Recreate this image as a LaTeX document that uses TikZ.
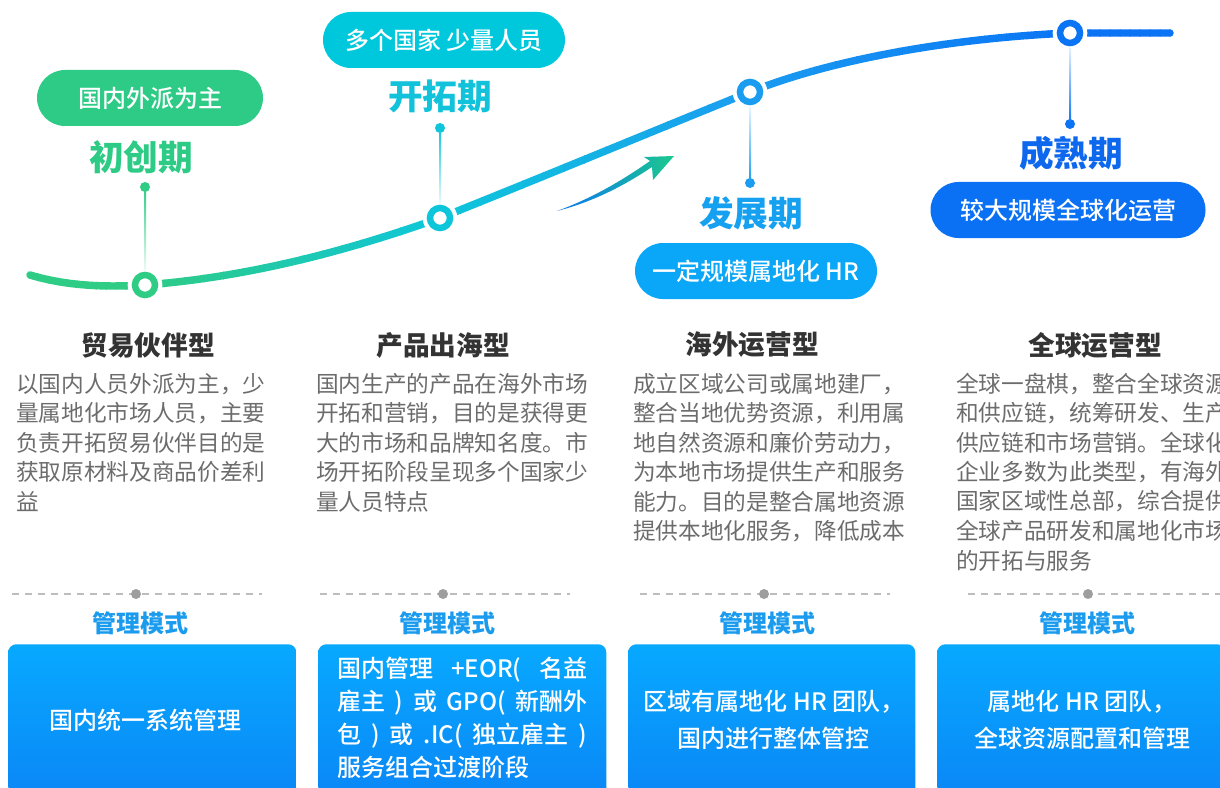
\documentclass[tikz,border=0pt]{standalone}
\usepackage{fontspec}
\setmainfont{Noto Sans CJK SC}
\newfontfamily\heavyfont{Noto Sans CJK SC Black}
\newfontfamily\medfont{Noto Sans CJK SC Medium}
\usetikzlibrary{calc}
\definecolor{cg}{HTML}{2ECC85}
\definecolor{cc}{HTML}{0EC6DA}
\definecolor{cl}{HTML}{1A9CF0}
\definecolor{cb}{HTML}{0A74F5}
\definecolor{pg}{HTML}{2DCB86}
\definecolor{pc}{HTML}{00C8DC}
\definecolor{pl}{HTML}{0AA6F7}
\definecolor{pb}{HTML}{0A70F4}
\definecolor{tg}{HTML}{2DCB85}
\definecolor{tc}{HTML}{12C2DA}
\definecolor{tl}{HTML}{16A0F0}
\definecolor{tb}{HTML}{0D68EE}
\definecolor{bodygray}{HTML}{6C6C6C}
\definecolor{titlegray}{HTML}{333333}
\definecolor{modeblue}{HTML}{1B9BEE}
\definecolor{boxtop}{HTML}{08A9FF}
\definecolor{boxbot}{HTML}{0A86F6}
\definecolor{dashgray}{HTML}{BDBDBD}
\definecolor{dotgray}{HTML}{9E9E9E}
\definecolor{arrowgreen}{HTML}{1DC98C}
\newcommand\mycurve{(c0) .. controls (70,287) and (110,287) .. (r1) .. controls (250,277) and (350,250) .. (r2) .. controls (560,170) and (680,120) .. (r3) .. controls (830,60) and (950,38) .. (r4) -- (c5)}
\begin{document}
\begin{tikzpicture}[x=0.75pt,y=-0.75pt,
  pill/.style={rounded corners=21pt,minimum height=42pt,inner sep=0pt,text=white,font=\medfont\fontsize{18}{18}\selectfont},
  phase/.style={font=\heavyfont\fontsize{26}{26}\selectfont,inner sep=0pt},
  coltitle/.style={font=\heavyfont\fontsize{20}{20}\selectfont,text=titlegray,inner sep=0pt},
  body/.style={font=\fontsize{17}{17}\selectfont,text=bodygray,anchor=west,inner sep=0pt},
  mode/.style={font=\heavyfont\fontsize{18}{18}\selectfont,text=modeblue,inner sep=0pt},
  boxtext/.style={font=\medfont\fontsize{18}{18}\selectfont,text=white,inner sep=0pt},
  mbox/.style={rounded corners=6pt,top color=boxtop,bottom color=boxbot,draw=none,minimum height=117pt,anchor=north west,inner sep=0pt},
  ring/.style={circle,draw,line width=4.9pt,minimum size=15pt,inner sep=0pt,fill=white},
  stemdot/.style={circle,minimum size=7.5pt,inner sep=0pt},
  sepdot/.style={circle,fill=dotgray,minimum size=7.5pt,inner sep=0pt},
  sepline/.style={draw=dashgray,line width=1.5pt,dash pattern=on 5.25pt off 4.5pt},
  curve/.style={line width=5.6pt,line cap=round}]
\useasboundingbox (0,0) rectangle (1220,788);
\clip (0,0) rectangle (1220,788);

% curve key points
\coordinate (c0) at (30,275);
\coordinate (r1) at (145,285);
\coordinate (r2) at (440,218);
\coordinate (r3) at (750,92);
\coordinate (r4) at (1070,33);
\coordinate (c5) at (1170,33);

% gradient curve, drawn in vertical bands
\foreach \xa/\xb/\ca/\cb in {0/145/cg/cg,145/440/cg/cc,440/750/cc/cl,750/1070/cl/cb,1070/1220/cb/cb}{
  \foreach \k in {0,...,14}{
    \pgfmathsetmacro\xl{\xa+(\xb-\xa)*\k/15-0.5}
    \pgfmathsetmacro\xr{\xa+(\xb-\xa)*(\k+1)/15+0.5}
    \pgfmathtruncatemacro\t{100*(\k+0.5)/15}
    \colorlet{bandc}{\cb!\t!\ca}
    \begin{scope}
      \clip (\xl,0) rectangle (\xr,400);
      \draw[curve,draw=bandc] \mycurve;
    \end{scope}
  }
}

% arrow
\coordinate (at) at (557,211);
\coordinate (ah) at (674,156);
\shade[left color=cb,middle color=cc,right color=arrowgreen]
  (at) .. controls (590,199) and (620,182) .. (650,161) -- (644,157) -- (ah) -- (653,180) -- (652,167)
  .. controls (622,187) and (592,202) .. (at) -- cycle;

% halos and rings
\foreach \r in {r1,r2,r3,r4}{\fill[white] (\r) circle (13pt);}
\node[ring,draw=cg] (ring1) at (r1) {};
\node[ring,draw=cc] (ring2) at (r2) {};
\node[ring,draw=cl] (ring3) at (r3) {};
\node[ring,draw=cb] (ring4) at (r4) {};

% stems
\node[stemdot,fill=cg] (d1) at (145,187) {};
\node[stemdot,fill=cc] (d2) at (440,128) {};
\node[stemdot,fill=cl] (d3) at (750,183) {};
\node[stemdot,fill=cb] (d4) at (1070,124) {};
\shade[top color=cg,bottom color=cg!10] ($(d1)+(-1,0)$) rectangle ($(ring1)+(1,-16)$);
\shade[top color=cc,bottom color=cc!10] ($(d2)+(-1,0)$) rectangle ($(ring2)+(1,-16)$);
\shade[top color=cl!12,bottom color=cl] ($(ring3)+(-1,16)$) rectangle ($(d3)+(1,0)$);
\shade[top color=cb!12,bottom color=cb] ($(ring4)+(-1,16)$) rectangle ($(d4)+(1,0)$);

% pills
\node[pill,fill=pg,minimum width=169.5pt] (pill1) at (150,98) {国内外派为主};
\node[pill,fill=pc,minimum width=181.5pt] (pill2) at (444,40) {多个国家 少量人员};
\node[pill,fill=pl,minimum width=181.5pt] (pill3) at (756,271) {一定规模属地化 HR};
\node[pill,fill=pb,minimum width=206.25pt] (pill4) at (1068,210) {较大规模全球化运营};

% phase titles
\node[phase,text=tg] (ph1) at (141,157) {初创期};
\node[phase,text=tc] (ph2) at (440,96) {开拓期};
\node[phase,text=tl] (ph3) at (751,213) {发展期};
\node[phase,text=tb] (ph4) at (1071,153) {成熟期};

% column titles
\node[coltitle] (ct1) at (148,345) {贸易伙伴型};
\node[coltitle] (ct2) at (443,345) {产品出海型};
\node[coltitle] (ct3) at (752,345) {海外运营型};
\node[coltitle] (ct4) at (1095,345) {全球运营型};

% body texts
\foreach \s [count=\i] in {以国内人员外派为主，少,量属地化市场人员，主要,负责开拓贸易伙伴目的是,获取原材料及商品价差利,益}
  \node[body] (ta\i) at (16,{384+29.4*(\i-1)}) {\s};
\foreach \s [count=\i] in {国内生产的产品在海外市场,开拓和营销，目的是获得更,大的市场和品牌知名度。市,场开拓阶段呈现多个国家少,量人员特点}
  \node[body] (tb\i) at (316,{384+29.4*(\i-1)}) {\s};
\foreach \s [count=\i] in {成立区域公司或属地建厂，,整合当地优势资源，利用属,地自然资源和廉价劳动力，,为本地市场提供生产和服务,能力。目的是整合属地资源,提供本地化服务，降低成本}
  \node[body] (tc\i) at (633,{384+29.4*(\i-1)}) {\s};
\foreach \s [count=\i] in {全球一盘棋，整合全球资源,和供应链，统筹研发、生产,供应链和市场营销。全球化,企业多数为此类型，有海外,国家区域性总部，综合提供,全球产品研发和属地化市场,的开拓与服务}
  \node[body] (td\i) at (956,{384+29.4*(\i-1)}) {\s};

% separators
\foreach \i/\a/\m/\b in {1/12/136/262,2/320/443/570,3/640/764/890,4/968/1088/1220}{
  \coordinate (sa\i) at (\a,594);
  \coordinate (sb\i) at (\b,594);
  \draw[sepline] (sa\i) -- (sb\i);
  \node[sepdot] (sd\i) at (\m,594) {};
}

% mode labels
\node[mode] (m1) at (140,623) {管理模式};
\node[mode] (m2) at (447,623) {管理模式};
\node[mode] (m3) at (767,623) {管理模式};
\node[mode] (m4) at (1087,623) {管理模式};

% boxes
\node[mbox,minimum width=216pt] (b1) at (8,644) {};
\node[mbox,minimum width=216pt] (b2) at (318,644) {};
\node[mbox,minimum width=215.25pt] (b3) at (628,644) {};
\node[mbox,minimum width=216pt] (b4) at (937,644) {};

% box texts
\node[boxtext] (x1) at (145,720) {国内统一系统管理};
\node[boxtext,anchor=west] (x21) at (337,670) {\makebox[187.5pt][s]{国内管理 +EOR( 名益}};
\node[boxtext,anchor=west] (x22) at (337,703) {\makebox[187.5pt][s]{雇主 ) 或 GPO( 新酬外}};
\node[boxtext,anchor=west] (x23) at (337,736) {\makebox[187.5pt][s]{包 ) 或 .IC( 独立雇主 )}};
\node[boxtext,anchor=west] (x24) at (337,767) {服务组合过渡阶段};
\node[boxtext] (x31) at (774,702) {区域有属地化 HR 团队，};
\node[boxtext] (x32) at (773,738) {国内进行整体管控};
\node[boxtext] (x41) at (1082,702) {属地化 HR 团队，};
\node[boxtext] (x42) at (1082,738) {全球资源配置和管理};
\end{tikzpicture}
\end{document}
